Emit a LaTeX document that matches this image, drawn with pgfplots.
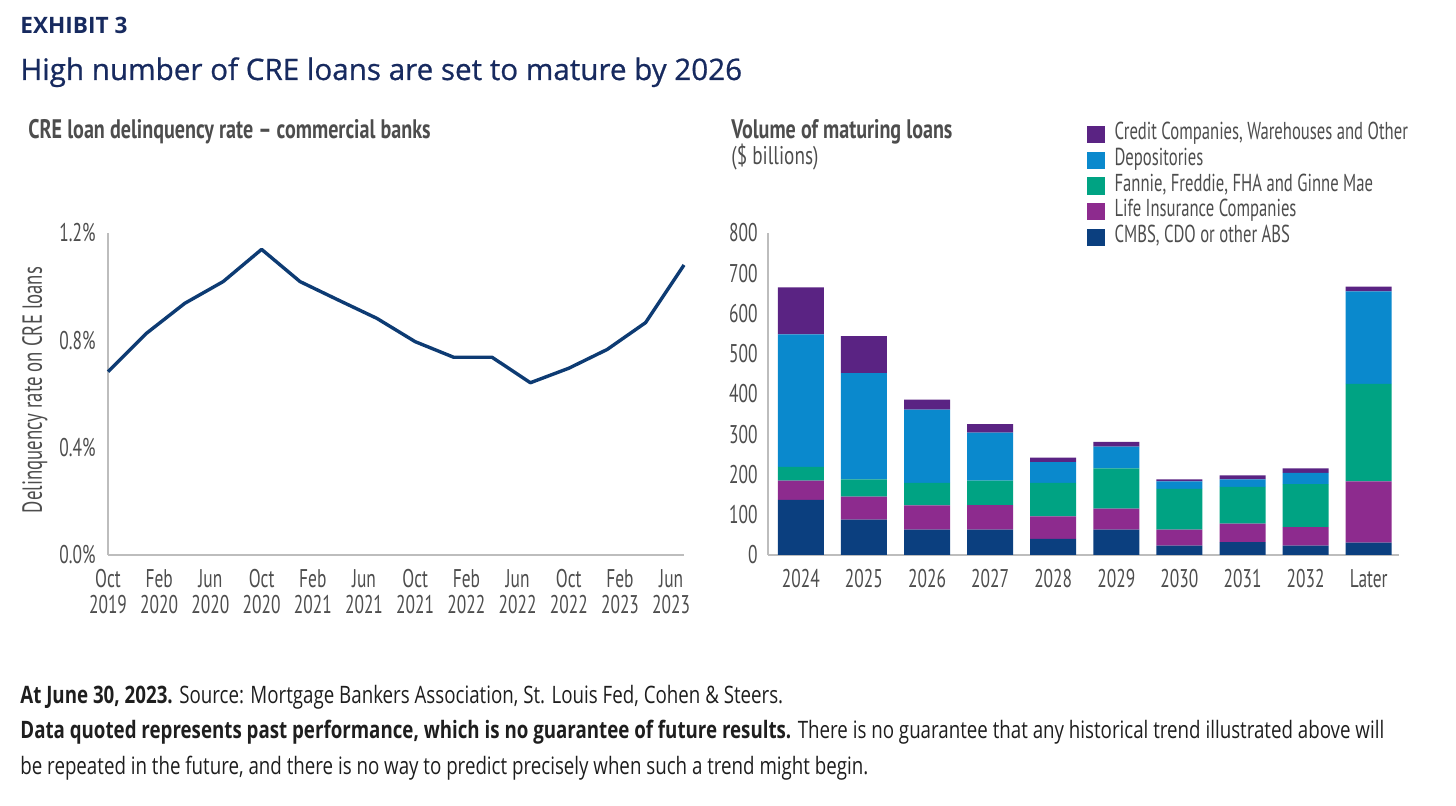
\documentclass[border=0pt]{standalone}
\usepackage{fontspec}
\setmainfont{Open Sans}
\newfontfamily\titf[FakeBold=0.7]{Open Sans}
\newfontfamily\condf[FakeStretch=0.68]{PT Sans}
\newfontfamily\subf[FakeStretch=0.75]{PT Sans}
\newfontfamily\footf[FakeStretch=0.78]{Open Sans}
\usepackage{pgfplots}
\pgfplotsset{compat=1.18}
\definecolor{navy}{HTML}{172A5F}
\definecolor{linec}{HTML}{0D3B73}
\definecolor{cCredit}{HTML}{5A2383}
\definecolor{cDep}{HTML}{0A89CD}
\definecolor{cFan}{HTML}{00A383}
\definecolor{cLife}{HTML}{8D2B8E}
\definecolor{cCmbs}{HTML}{0B3F7F}
\definecolor{txtgray}{HTML}{4D4D4D}
\definecolor{axgray}{HTML}{BDBDBD}
\definecolor{foot}{HTML}{1E1E1E}

\pgfplotstableread{
x cmbs life fan dep cred
0 137 48 34 329 117
1 88 57 43 264 92
2 63 60 56 182 25
3 63 61 61 119 21
4 40 56 83 52 11
5 63 52 100 54 12
6 23 40 101 19 5
7 32 46 91 19 10
8 23 46 107 28 11
9 31 152 242 230 12
}\loans

\begin{document}
\begin{tikzpicture}
\path[use as bounding box] (0,0) rectangle (728pt,-403pt);
\begin{scope}[x=0.5pt,y=-0.5pt]
\node[anchor=base west, inner sep=0pt, text=navy, font=\fontsize{11.3}{13}\selectfont\bfseries] at (20,34) {EXHIBIT 3};
\node[anchor=base west, inner sep=0pt, text=navy, font=\titf\fontsize{14.8}{17}\selectfont] at (20,80) {High number of CRE loans are set to mature by 2026};
\node[anchor=base west, inner sep=0pt, text=txtgray, font=\subf\fontsize{13.4}{15}\selectfont\bfseries] at (28,139) {CRE loan delinquency rate – commercial banks};
\node[anchor=base west, inner sep=0pt, text=txtgray, font=\subf\fontsize{13.4}{15}\selectfont\bfseries] at (731,139) {Volume of maturing loans};
\node[anchor=base west, inner sep=0pt, text=txtgray, font=\subf\fontsize{12.8}{15}\selectfont] at (731,165) {(\$ billions)};
\node[rotate=90, inner sep=0pt, text=txtgray, font=\condf\fontsize{13.8}{15}\selectfont] at (35,390) {Delinquency rate on CRE loans};
\node[anchor=base west, inner sep=0pt, text=foot, font=\footf\fontsize{12}{14}\selectfont] at (20,703)
{\textbf{At June 30, 2023.} Source: Mortgage Bankers Association, St. Louis Fed, Cohen \& Steers.};
\node[anchor=base west, inner sep=0pt, text=foot, font=\footf\fontsize{12}{14}\selectfont] at (20,738)
{\textbf{Data quoted represents past performance, which is no guarantee of future results.} There is no guarantee that any historical trend illustrated above will};
\node[anchor=base west, inner sep=0pt, text=foot, font=\footf\fontsize{12}{14}\selectfont] at (20,774)
{be repeated in the future, and there is no way to predict precisely when such a trend might begin.};
\end{scope}

\begin{axis}[
 at={(54pt,-277.5pt)}, anchor=south west, scale only axis,
 width=288pt, height=161pt,
 xmin=0, xmax=15, ymin=0, ymax=1.2,
 axis x line*=bottom, axis y line*=left,
 axis line style={-, draw=axgray, line width=0.7pt},
 major tick length=0pt,
 ytick={0,0.4,0.8,1.2}, yticklabels={0.0\%,0.4\%,0.8\%,1.2\%},
 xtick={0,1.33333,2.66667,4,5.33333,6.66667,8,9.33333,10.66667,12,13.33333,14.66667},
 xticklabels={{Oct\\2019},{Feb\\2020},{Jun\\2020},{Oct\\2020},{Feb\\2021},{Jun\\2021},{Oct\\2021},{Feb\\2022},{Jun\\2022},{Oct\\2022},{Feb\\2023},{Jun\\2023}},
 tick label style={font=\condf\fontsize{12.8}{13}\selectfont, text=txtgray, inner sep=0pt},
 xticklabel style={align=center, yshift=-7pt},
 yticklabel style={xshift=-6pt},
 clip=false,
]
\addplot[linec, line width=1.7pt, line join=round] coordinates {
(0,0.683) (1,0.826) (2,0.938) (3,1.019) (4,1.139) (5,1.019) (6,0.950) (7,0.882)
(8,0.795) (9,0.737) (10,0.737) (11,0.642) (12,0.696) (13,0.766) (14,0.866) (15,1.081)};
\end{axis}

\begin{axis}[
 at={(384pt,-277.5pt)}, anchor=south west, scale only axis,
 width=315.5pt, height=161pt,
 xmin=-0.52, xmax=9.48, ymin=0, ymax=800,
 ybar stacked, bar width=23pt,
 axis x line*=bottom, axis y line*=left,
 axis line style={-, draw=axgray, line width=0.7pt},
 major tick length=0pt,
 ytick={0,100,...,800},
 /pgf/number format/assume math mode=true,
 xtick={0,...,9},
 xticklabels={2024,2025,2026,2027,2028,2029,2030,2031,2032,Later},
 tick label style={font=\condf\fontsize{12.8}{13}\selectfont, text=txtgray, inner sep=0pt},
 xticklabel style={yshift=-7pt},
 yticklabel style={xshift=-5pt},
 clip=false,
 reverse legend,
 legend cell align=left,
 legend style={at={(axis description cs:0.496,1.36)}, anchor=north west, draw=none, fill=none,
   font=\condf\fontsize{12.25}{13}\selectfont, text=txtgray,
   nodes={inner sep=0pt, text height=9pt, text depth=3.9pt},
   /tikz/every odd column/.append style={column sep=5pt}},
]
\addplot[fill=cCmbs, draw=none, legend image code/.code={\fill[cCmbs] (0pt,-4.3pt) rectangle (8.6pt,4.3pt);}] table[x=x,y=cmbs] {\loans};
\addplot[fill=cLife, draw=none, legend image code/.code={\fill[cLife] (0pt,-4.3pt) rectangle (8.6pt,4.3pt);}] table[x=x,y=life] {\loans};
\addplot[fill=cFan, draw=none, legend image code/.code={\fill[cFan] (0pt,-4.3pt) rectangle (8.6pt,4.3pt);}] table[x=x,y=fan] {\loans};
\addplot[fill=cDep, draw=none, legend image code/.code={\fill[cDep] (0pt,-4.3pt) rectangle (8.6pt,4.3pt);}] table[x=x,y=dep] {\loans};
\addplot[fill=cCredit, draw=none, legend image code/.code={\fill[cCredit] (0pt,-4.3pt) rectangle (8.6pt,4.3pt);}] table[x=x,y=cred] {\loans};
\legend{CMBS{,} CDO or other ABS, Life Insurance Companies, {Fannie, Freddie, FHA and Ginne Mae}, Depositories, {Credit Companies, Warehouses and Other}}
\end{axis}
\end{tikzpicture}
\end{document}
